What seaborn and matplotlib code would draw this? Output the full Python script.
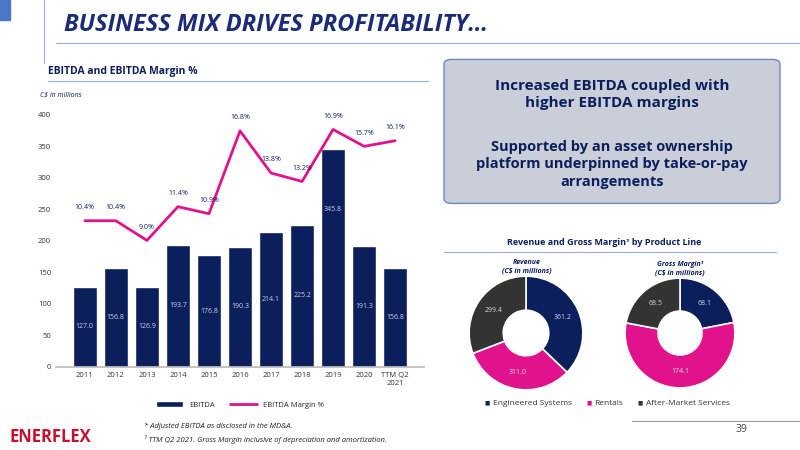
import matplotlib
matplotlib.use("Agg")
import matplotlib.pyplot as plt
import seaborn as sns
import pandas as pd
import numpy as np
from matplotlib.patches import FancyBboxPatch, Rectangle

sns.set_theme(style="white")
plt.rcParams['font.family'] = ['Open Sans', 'DejaVu Sans']

years = ["2011","2012","2013","2014","2015","2016","2017","2018","2019","2020","TTM Q2\n2021"]
ebitda = [127.0,156.8,126.9,193.7,176.8,190.3,214.1,225.2,345.8,191.3,156.8]
margin = [10.4,10.4,9.0,11.4,10.9,16.8,13.8,13.2,16.9,15.7,16.1]
segments = ["Engineered Systems","Rentals","After-Market Services"]
revenue = [361.2,311.0,299.4]
gross_margin = [68.1,174.1,68.5]

NAVY = "#0b1f5c"; PINK = "#e0138c"; DARK = "#333333"
cols = [NAVY, PINK, DARK]

fig = plt.figure(figsize=(8,4.5), dpi=100)
fig.patch.set_facecolor("white")

# header
fig.text(0.08, 0.945, "BUSINESS MIX DRIVES PROFITABILITY…", fontsize=17, fontweight="bold",
         fontstyle="italic", color="#1a2b7a", va="center")
fig.add_artist(Rectangle((0,0.955),0.012,0.045, transform=fig.transFigure, color="#4a78c8"))
fig.add_artist(plt.Line2D([0.055,0.055],[0.86,1.0], transform=fig.transFigure, color="#8fb0e0", lw=0.8))
fig.add_artist(plt.Line2D([0.07,1.0],[0.905,0.905], transform=fig.transFigure, color="#8fb0e0", lw=0.8))

# bar chart
fig.text(0.06, 0.835, "EBITDA and EBITDA Margin %", fontsize=7.5, fontweight="bold", color=NAVY)
fig.add_artist(plt.Line2D([0.06,0.535],[0.82,0.82], transform=fig.transFigure, color="#8fb0e0", lw=0.8))
fig.text(0.05, 0.785, "C$ in millions", fontsize=5, fontstyle="italic", color=NAVY)

ax = fig.add_axes([0.07, 0.185, 0.46, 0.56])
df = pd.DataFrame({"year": years, "ebitda": ebitda, "margin": margin})
sns.barplot(data=df, x="year", y="ebitda", color=NAVY, width=0.78, ax=ax, label="EBITDA", saturation=1)
ax.set_ylim(0,400); ax.set_yticks(range(0,401,50))
ax.set_xlabel(""); ax.set_ylabel("")
ax.tick_params(labelsize=5.5, colors="#333333", length=0)
for s in ax.spines.values(): s.set_visible(False)
ax.spines["bottom"].set_visible(True); ax.spines["bottom"].set_color("#bbbbbb")
for i, v in enumerate(ebitda):
    ax.text(i, v/2 if v < 300 else v*0.72, f"{v:.1f}", ha="center", va="center", fontsize=5, color="#d0d6ea")
ax2 = ax.twinx()
sns.lineplot(x=list(range(len(years))), y=margin, color=PINK, lw=2, ax=ax2, label="EBITDA Margin %")
ax2.set_ylim(0, 17.95); ax2.axis("off")
for i, m in enumerate(margin):
    ax2.text(i, m + 0.7, f"{m:.1f}%", ha="center", va="bottom", fontsize=5, color=NAVY)
ax2.get_legend().remove()
h1, l1 = ax.get_legend_handles_labels(); h2, l2 = ax2.get_legend_handles_labels()
ax.legend(h1+h2, l1+l2, loc="upper center", bbox_to_anchor=(0.5,-0.11), ncol=2, frameon=False,
          fontsize=5.5, handlelength=3.5)

# right box
box = FancyBboxPatch((0.555,0.548),0.42,0.32, boxstyle="round,pad=0,rounding_size=0.01",
                     transform=fig.transFigure, facecolor="#c9ced8", edgecolor="#6f86c4", lw=1)
fig.add_artist(box)
fig.text(0.765, 0.79, "Increased EBITDA coupled with\nhigher EBITDA margins", ha="center", va="center",
         fontsize=11, fontweight="bold", color=NAVY, linespacing=1.3)
fig.text(0.765, 0.635, "Supported by an asset ownership\nplatform underpinned by take-or-pay\narrangements",
         ha="center", va="center", fontsize=10.5, fontweight="bold", color=NAVY, linespacing=1.3)

# donuts
fig.text(0.755, 0.455, "Revenue and Gross Margin¹ by Product Line", ha="center", fontsize=6.5,
         fontweight="bold", color=NAVY)
fig.add_artist(plt.Line2D([0.555,0.97],[0.44,0.44], transform=fig.transFigure, color="#8fb0e0", lw=0.8))
fig.text(0.658, 0.395, "Revenue\n(C$ in millions)", ha="center", fontsize=5, fontweight="bold",
         fontstyle="italic", color=NAVY)
fig.text(0.85, 0.39, "Gross Margin¹\n(C$ in millions)", ha="center", fontsize=5, fontweight="bold",
         fontstyle="italic", color=NAVY)

def donut(rect, vals):
    a = fig.add_axes(rect)
    a.pie(vals, colors=cols, startangle=90, counterclock=False,
          wedgeprops=dict(width=0.6, edgecolor="white", lw=1.2))
    tot = sum(vals); ang = 90
    for v in vals:
        mid = np.deg2rad(ang - v/tot*180)
        a.text(0.7*np.cos(mid), 0.7*np.sin(mid), f"{v:.1f}", ha="center", va="center",
               fontsize=5, color="#d0d6ea")
        ang -= v/tot*360
    a.set_xlim(-1.02, 1.02); a.set_ylim(-1.02, 1.02)
    a.set_aspect("equal")
    return a

donut([0.585, 0.13, 0.145, 0.26], revenue)
donut([0.78, 0.135, 0.14, 0.25], gross_margin)
lx = [0.606, 0.733, 0.797]
for x, c, s in zip(lx, cols, segments):
    fig.text(x, 0.104, "■", color=c, fontsize=4, va="center")
    fig.text(x+0.01, 0.104, s, color="#333333", fontsize=6, va="center")

# footer
fig.add_artist(plt.Line2D([0.79,1.0],[0.065,0.065], transform=fig.transFigure, color="#999999", lw=0.8))
fig.text(0.92, 0.04, "39", fontsize=7.5, color="#444444")
fig.text(0.012, 0.03, "ENERFLEX", fontsize=12, fontweight="bold", color="#c8102e", va="center")
fig.text(0.18, 0.048, "* Adjusted EBITDA as disclosed in the MD&A.", fontsize=5.5, fontstyle="italic", color="#222222")
fig.text(0.18, 0.018, "¹ TTM Q2 2021. Gross Margin inclusive of depreciation and amortization.", fontsize=5.5,
         fontstyle="italic", color="#222222")

fig.savefig("out.png", dpi=100)
